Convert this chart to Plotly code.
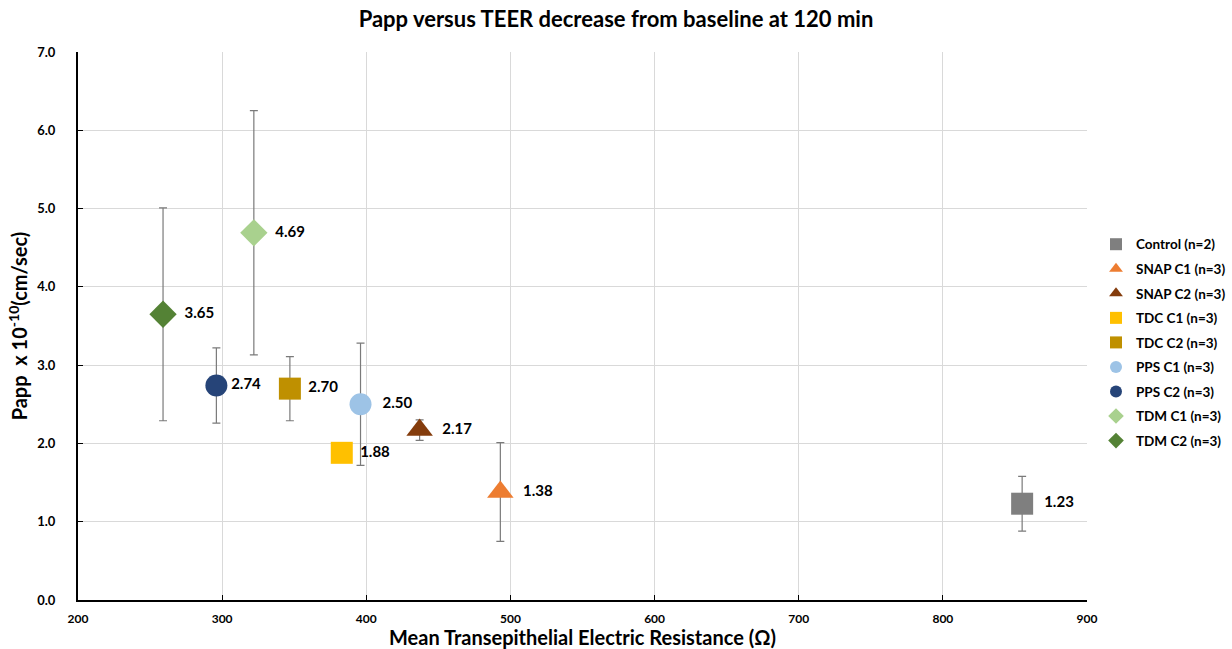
import plotly.graph_objects as go

# ---- data ----
groups = ["Control (n=2)", "SNAP C1 (n=3)", "SNAP C2 (n=3)", "TDC C1 (n=3)", "TDC C2 (n=3)",
          "PPS C1 (n=3)", "PPS C2 (n=3)", "TDM C1 (n=3)", "TDM C2 (n=3)"]
teer = [855, 493, 437, 383, 347, 396, 296, 322, 259]
papp = [1.23, 1.38, 2.17, 1.88, 2.70, 2.50, 2.74, 4.69, 3.65]
papp_err = [0.35, 0.63, 0.13, 0.0, 0.41, 0.78, 0.48, 1.56, 1.36]
x_ticks = [200, 300, 400, 500, 600, 700, 800, 900]
y_ticks = [0, 1, 2, 3, 4, 5, 6, 7]

# ---- styles ----
colors = ["#7F7F7F", "#ED7D31", "#843C0C", "#FFC000", "#BF9000",
          "#9DC3E6", "#264478", "#A9D18E", "#548235"]
symbols = ["square", "triangle-up", "triangle-up", "square", "square",
           "circle", "circle", "diamond", "diamond"]
sizes = [22, 23, 23, 22, 22, 22, 22, 21, 21]
pads = ["  ", "  ", "  ", " ", " ", "  ", "", "  ", "  "]

FONT = "Lato"
W, H = 1232, 649
ML, MR, MT, MB = 78, 0, 52, 49
PLOT_RIGHT = 1087

fig = go.Figure()
for i, g in enumerate(groups):
    fig.add_trace(go.Scatter(
        x=[teer[i]], y=[papp[i]],
        mode="markers+text",
        name=g,
        legendgroup=g,
        text=[pads[i] + f"{papp[i]:.2f}"],
        textposition="middle right",
        textfont=dict(family=FONT, size=15, color="#000000", weight="bold"),
        marker=dict(symbol=symbols[i], size=sizes[i], color=colors[i], line=dict(width=0)),
        error_y=dict(type="data", array=[papp_err[i]], visible=papp_err[i] > 0,
                     color="#7A7A7A", thickness=1.2, width=4),
        cliponaxis=False,
    ))

paper_w = W - ML - MR
fig.update_layout(
    width=W, height=H,
    margin=dict(l=ML, r=MR, t=MT, b=MB),
    paper_bgcolor="white", plot_bgcolor="white",
    font=dict(family=FONT, color="#000000"),
    title=dict(text="<b>Papp versus TEER decrease from baseline at 120 min</b>",
               x=0.5, xanchor="center", y=0.97, yanchor="middle",
               font=dict(family=FONT, size=22, color="#000000")),
    showlegend=True,
    legend=dict(x=(1096 - ML) / paper_w, xanchor="left",
                y=0.47, yanchor="middle",
                font=dict(family=FONT, size=13.5, color="#000000", weight="bold"),
                itemsizing="constant", tracegroupgap=4, bgcolor="rgba(0,0,0,0)",
                borderwidth=0),
    xaxis=dict(domain=[0, (PLOT_RIGHT - ML) / paper_w], automargin=False,
               range=[200, 900], tickvals=x_ticks, ticktext=[str(v) for v in x_ticks],
               showgrid=True, gridcolor="#D9D9D9", gridwidth=1,
               showline=True, linecolor="#000000", linewidth=2,
               ticks="inside", ticklen=5, tickcolor="#000000", tickwidth=1,
               ticklabelstandoff=7,
               tickfont=dict(family=FONT, size=12, color="#000000", weight="bold"),
               title=dict(text="<b>Mean Transepithelial Electric Resistance (Ω)</b>",
                          font=dict(family=FONT, size=20, color="#000000"), standoff=6),
               zeroline=False, mirror=False),
    yaxis=dict(automargin=False,
               range=[0, 7], tickvals=y_ticks, ticktext=[f"{v:.1f}" for v in y_ticks],
               showgrid=True, gridcolor="#D9D9D9", gridwidth=1,
               showline=True, linecolor="#000000", linewidth=2,
               ticks="inside", ticklen=5, tickcolor="#000000", tickwidth=1,
               ticklabelstandoff=18,
               tickfont=dict(family=FONT, size=13, color="#000000", weight="bold"),
               title=dict(text="<b>Papp  x 10<sup>-10</sup>(cm/sec)</b>",
                          font=dict(family=FONT, size=20, color="#000000"), standoff=4),
               zeroline=False),
)

fig.write_html("out.html")
